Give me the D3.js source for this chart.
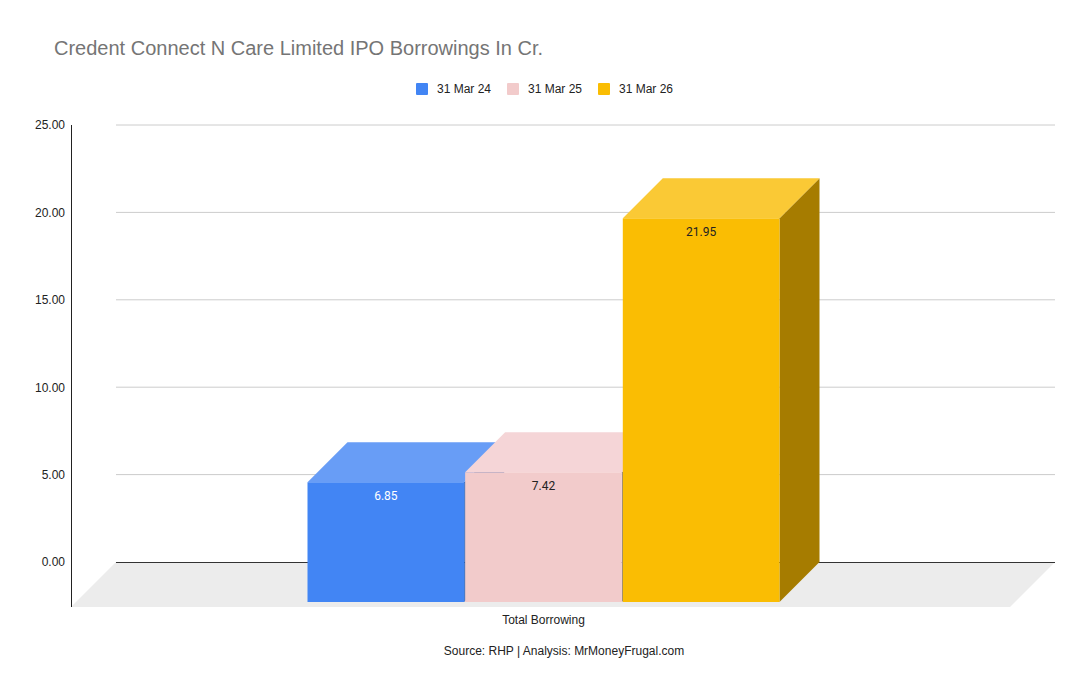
<!DOCTYPE html>
<html lang="en">
<head>
<meta charset="UTF-8">
<title>Credent Connect N Care Limited IPO Borrowings</title>
<script src="https://d3js.org/d3.v7.min.js"></script>
<style>
    body { margin: 0; background: #fff; font-family: Arial, "Liberation Sans", sans-serif; }
</style>
</head>
<body>
<div id="chart"></div>
<script>
    // data
    const categories = ["Total Borrowing"];
    const seriesNames = ["31 Mar 24", "31 Mar 25", "31 Mar 26"];
    const seriesValues = [[6.85], [7.42], [21.95]];
    const yTicks = [0, 5, 10, 15, 20, 25];

    const colors = {
        front: ["#4285f4", "#f2cbcb", "#fabd03"],
        top:   ["#689df6", "#f5d5d7", "#fac935"],
        side:  ["#2c5fb0", "#8f8585", "#a67c00"]
    };

    const W = 1090, H = 694;
    const back = {left: 116, right: 1055};   // back plane of the plot
    const depth = 40, floorDepth = 45;

    const svg = d3.select("#chart").append("svg")
        .attr("width", W).attr("height", H);

    const y = d3.scaleLinear().domain([0, 25]).range([562, 125]);

    // front plane x scale
    const x0 = d3.scaleBand().domain(categories)
        .range([back.left - depth - 2, back.right - depth - 2])
        .paddingInner(0).paddingOuter(0.4947);
    const x1 = d3.scaleBand().domain(seriesNames)
        .range([0, x0.bandwidth()]).paddingInner(0.006);

    // title
    svg.append("text").attr("x", 54).attr("y", 55)
        .attr("font-size", 20).attr("fill", "#757575")
        .text("Credent Connect N Care Limited IPO Borrowings In Cr.");

    // legend
    const legX = [416, 507, 598];
    const leg = svg.append("g");
    seriesNames.forEach((s, i) => {
        leg.append("rect").attr("x", legX[i]).attr("y", 83)
            .attr("width", 12).attr("height", 12).attr("rx", 1)
            .attr("fill", colors.front[i]);
        leg.append("text").attr("x", legX[i] + 21).attr("y", 93)
            .attr("font-size", 12).attr("fill", "#222").text(s);
    });

    // floor
    const y0 = y(0);
    svg.append("polygon")
        .attr("points", [
            [back.left, y0], [back.right, y0],
            [back.right - floorDepth, y0 + floorDepth], [back.left - floorDepth, y0 + floorDepth]
        ].join(" "))
        .attr("fill", "#ececec");

    // gridlines
    svg.append("g").selectAll("line").data(yTicks.filter(d => d > 0)).enter().append("line")
        .attr("x1", back.left).attr("x2", back.right)
        .attr("y1", d => y(d)).attr("y2", d => y(d))
        .attr("stroke", "#cccccc").attr("stroke-width", 1);
    svg.append("line")
        .attr("x1", back.left).attr("x2", back.right)
        .attr("y1", y0 + 0.5).attr("y2", y0 + 0.5)
        .attr("stroke", "#333").attr("stroke-width", 1);

    // y axis
    const yAxis = svg.append("g")
        .attr("transform", `translate(${back.left - floorDepth},0)`)
        .call(d3.axisLeft(y).tickValues(yTicks).tickFormat(d3.format(".2f")).tickSize(0).tickPadding(6));
    yAxis.select(".domain").remove();
    yAxis.selectAll("text").attr("font-size", 12).attr("fill", "#222")
        .attr("font-family", "Arial, 'Liberation Sans', sans-serif");
    svg.append("line")
        .attr("x1", back.left - floorDepth + 0.5).attr("x2", back.left - floorDepth + 0.5)
        .attr("y1", y(25)).attr("y2", y0 + floorDepth)
        .attr("stroke", "#222").attr("stroke-width", 1);

    // bars (3D, drawn left to right)
    const bars = svg.append("g");
    seriesNames.forEach((s, i) => {
        categories.forEach((c, j) => {
            const v = seriesValues[i][j];
            const xl = x0(c) + x1(s), xr = xl + x1.bandwidth();
            const yt = y(v) + depth, yb = y0 + depth;
            const g = bars.append("g");
            g.append("polygon")
                .attr("points", [[xr, yt], [xr + depth, yt - depth], [xr + depth, yb - depth], [xr, yb]].join(" "))
                .attr("fill", colors.side[i]);
            g.append("polygon")
                .attr("points", [[xl, yt], [xr, yt], [xr + depth, yt - depth], [xl + depth, yt - depth]].join(" "))
                .attr("fill", colors.top[i]);
            g.append("rect")
                .attr("x", xl).attr("y", yt)
                .attr("width", xr - xl).attr("height", yb - yt)
                .attr("fill", colors.front[i]);
            g.append("text")
                .attr("x", (xl + xr) / 2).attr("y", yt + 18)
                .attr("text-anchor", "middle")
                .attr("font-family", "Roboto, Arial, sans-serif")
                .attr("font-size", 12)
                .attr("fill", i === 0 ? "#ffffff" : "#222")
                .text(v.toFixed(2));
        });
    });

    // category label
    svg.append("g").selectAll("text").data(categories).enter().append("text")
        .attr("x", d => x0(d) + x0.bandwidth() / 2).attr("y", 624)
        .attr("text-anchor", "middle").attr("font-size", 12).attr("fill", "#222")
        .text(d => d);

    // source
    svg.append("text").attr("x", 564).attr("y", 655)
        .attr("text-anchor", "middle").attr("font-size", 12).attr("fill", "#222")
        .text("Source: RHP | Analysis: MrMoneyFrugal.com");
</script>
</body>
</html>
